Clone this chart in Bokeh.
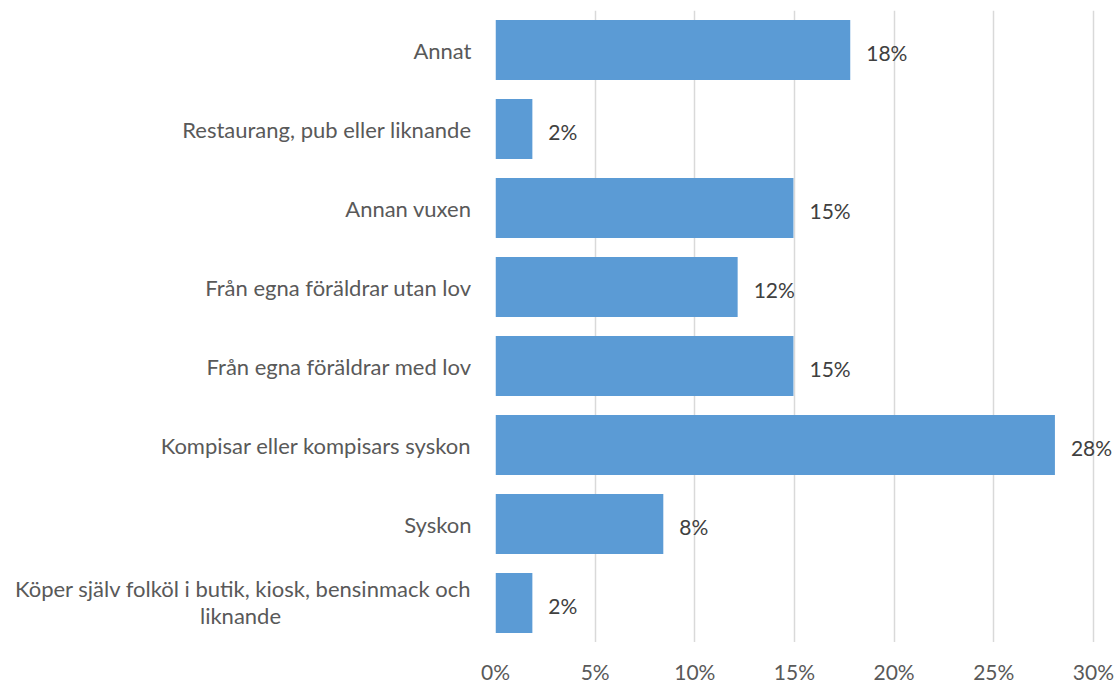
from bokeh.plotting import figure
from bokeh.layouts import row, column
from bokeh.models import ColumnDataSource, FactorRange, Range1d, FixedTicker
from bokeh.core.properties import value
from bokeh.embed import file_html
from bokeh.resources import INLINE

# Categories, top to bottom as shown in the chart
categories = [
    "Annat",
    "Restaurang, pub eller liknande",
    "Annan vuxen",
    "Från egna föräldrar utan lov",
    "Från egna föräldrar med lov",
    "Kompisar eller kompisars syskon",
    "Syskon",
    "Köper själv folköl i butik, kiosk, bensinmack och liknande",
]
# Share of respondents (%)
values = [17.8, 1.85, 14.95, 12.15, 14.95, 28.07, 8.42, 1.85]
value_labels = ["18%", "2%", "15%", "12%", "15%", "28%", "8%", "2%"]
# Displayed category text lines
label_lines = [
    ["Annat"],
    ["Restaurang, pub eller liknande"],
    ["Annan vuxen"],
    ["Från egna föräldrar utan lov"],
    ["Från egna föräldrar med lov"],
    ["Kompisar eller kompisars syskon"],
    ["Syskon"],
    ["Köper själv folköl i butik, kiosk, bensinmack och", "liknande"],
]
x_ticks = [0, 5, 10, 15, 20, 25, 30]
x_tick_labels = ["0%", "5%", "10%", "15%", "20%", "25%", "30%"]

FONT = "Lato"
BAR = "#5B9BD5"
CAT_SIZE = "22px"
NUM_SIZE = "21px"

factors = list(reversed(categories))
W, H = 1118, 684
TOP, AXIS_H = 10, 42
LW = 475          # width of the category-label panel
PAD = 20          # gap between label panel and plot frame
XMAX = 31.26      # x range end (frame extends a little past 30%)
PH = H - AXIS_H   # height of the upper panels

# ---------- left panel: category labels ----------
pl = figure(width=LW, height=PH, x_range=Range1d(0, LW),
            y_range=FactorRange(factors=factors, range_padding=0),
            output_backend="svg", toolbar_location=None,
            min_border_left=0, min_border_right=0,
            min_border_top=TOP, min_border_bottom=0)
pl.outline_line_color = None
pl.axis.visible = False
pl.grid.visible = False

lx = LW - 4
single = dict(y=[], t=[])
l1 = dict(y=[], t=[])
l2 = dict(y=[], t=[])
for c, lines in zip(categories, label_lines):
    if len(lines) == 1:
        single["y"].append(c); single["t"].append(lines[0])
    else:
        l1["y"].append(c); l1["t"].append(lines[0])
        l2["y"].append(c); l2["t"].append(lines[1])

pl.text(x=[lx] * len(single["y"]), y=single["y"], text=single["t"],
        text_align="right", text_baseline="middle",
        text_font=value(FONT), text_font_size=CAT_SIZE, text_color="#595959")
pl.text(x=[lx] * len(l1["y"]), y=l1["y"], text=l1["t"], y_offset=-15,
        text_align="right", text_baseline="middle",
        text_font=value(FONT), text_font_size=CAT_SIZE, text_color="#595959")
pl.text(x=[lx - 231] * len(l2["y"]), y=l2["y"], text=l2["t"], y_offset=12,
        text_align="center", text_baseline="middle",
        text_font=value(FONT), text_font_size=CAT_SIZE, text_color="#595959")

# ---------- main panel: bars ----------
p = figure(
    width=W - LW, height=PH,
    x_range=Range1d(0, XMAX),
    y_range=FactorRange(factors=factors, range_padding=0),
    output_backend="svg", toolbar_location=None,
    min_border_left=PAD, min_border_right=0,
    min_border_top=TOP, min_border_bottom=0,
)
p.outline_line_color = None
p.axis.visible = False

src = ColumnDataSource(dict(cat=categories, val=values, lbl=value_labels))
p.hbar(y="cat", right="val", left=0, height=0.76, source=src,
       fill_color=BAR, line_color=None)

p.text(x="val", y="cat", text="lbl", source=src, x_offset=16, y_offset=2,
       text_align="left", text_baseline="middle",
       text_font=value(FONT), text_font_size=NUM_SIZE, text_color="#404040")

p.ygrid.visible = False
p.xgrid.ticker = FixedTicker(ticks=x_ticks)
p.xgrid.grid_line_color = "#D9D9D9"
p.xgrid.grid_line_width = 1.5
p.xgrid.level = "underlay"

# ---------- bottom strip (full width): x tick labels ----------
px_per_unit = (W - LW - PAD) / XMAX
pb = figure(width=W, height=AXIS_H,
            x_range=Range1d(-(LW + PAD) / px_per_unit, XMAX), y_range=Range1d(0, AXIS_H),
            output_backend="svg", toolbar_location=None,
            min_border_left=0, min_border_right=0, min_border_top=0, min_border_bottom=0)
pb.outline_line_color = None
pb.axis.visible = False
pb.grid.visible = False
tick_src = ColumnDataSource(dict(x=x_ticks, t=x_tick_labels, y=[AXIS_H - 29] * len(x_ticks)))
pb.text(x="x", y="y", text="t", source=tick_src,
        text_align="center", text_baseline="middle",
        text_font=value(FONT), text_font_size=NUM_SIZE, text_color="#595959")

layout = column(row(pl, p, spacing=0), pb, spacing=0)
open("out.html", "w").write(file_html(layout, INLINE))
